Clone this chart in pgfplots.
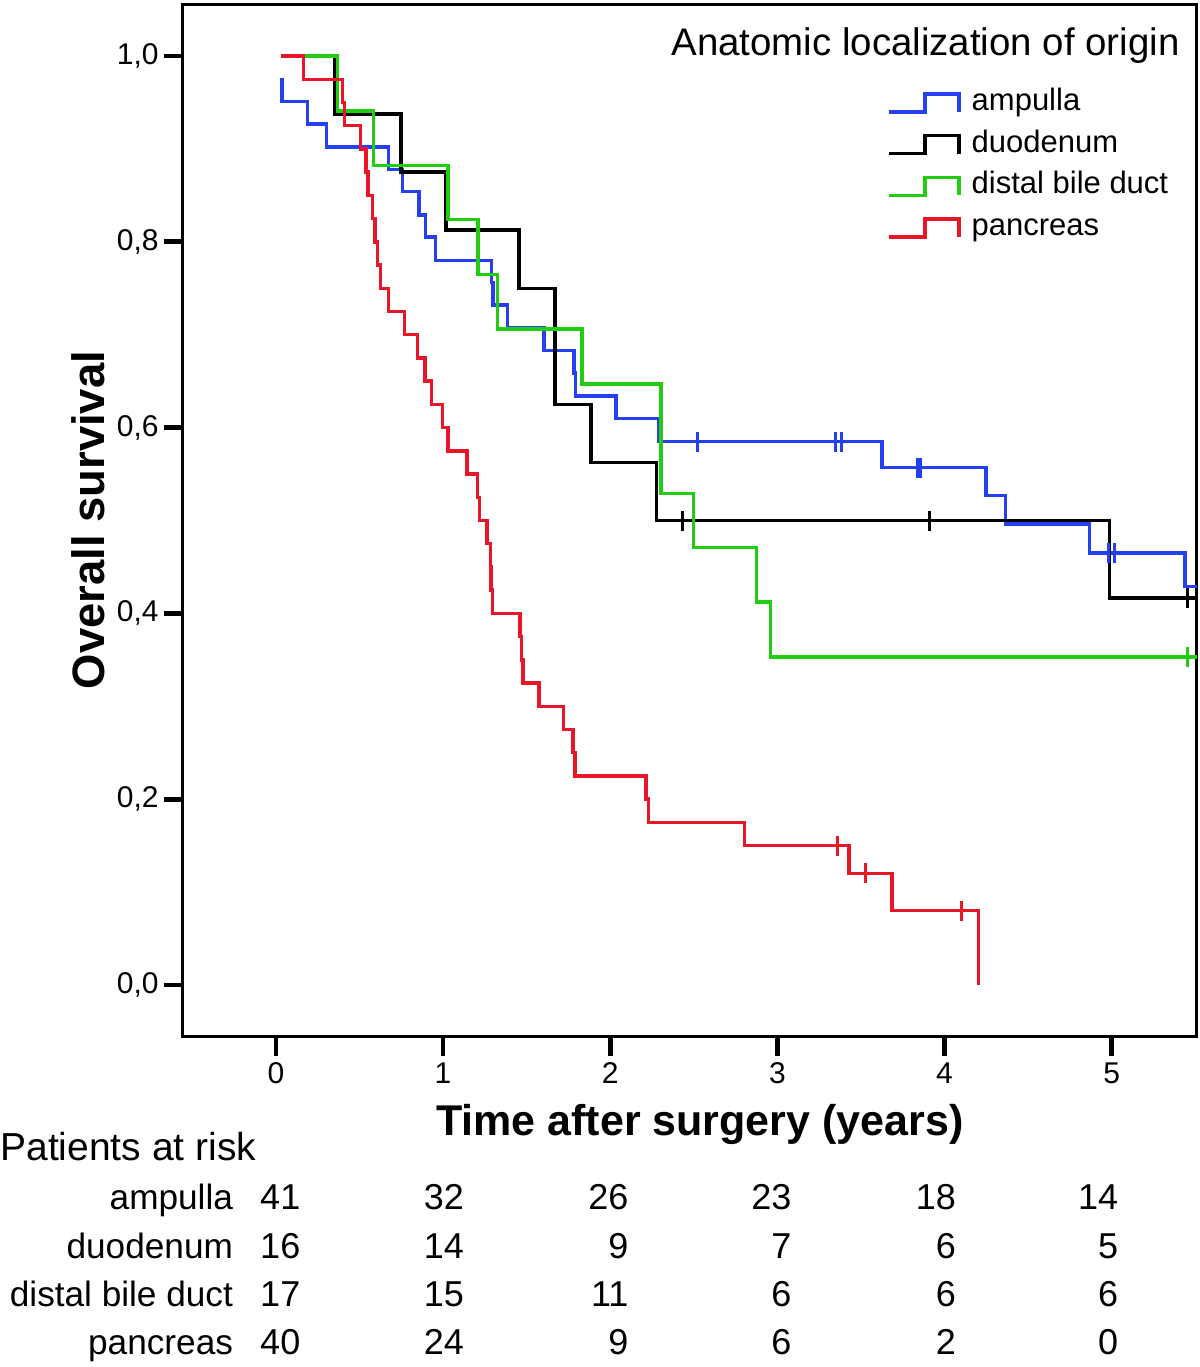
\documentclass[border=0pt]{standalone}
\usepackage{fontspec}
\setmainfont{Liberation Sans}
\usepackage{pgfplots}
\pgfplotsset{compat=1.18}

\definecolor{kmblue}{RGB}{36,64,240}
\definecolor{kmgreen}{RGB}{34,204,17}
\definecolor{kmred}{RGB}{232,22,40}

\newcommand\tabfont{\fontsize{18}{21}\selectfont}
\tikzset{risk/.style={anchor=base east, inner sep=0pt, font=\tabfont},
  risklabel/.style={anchor=base east, inner sep=0pt, font=\fontsize{17.6}{21}\selectfont}}

\begin{document}
\begin{tikzpicture}
\begin{axis}[
  name=ax,
  scale only axis,
  width=507pt, height=516.2pt,
  xmin=-0.558, xmax=5.509,
  ymin=-0.0557, ymax=1.0557,
  clip=false,
  axis line style={line width=1.5pt},
  xtick={0,1,2,3,4,5}, xticklabels={0,1,2,3,4,5},
  ytick={0,0.2,0.4,0.6,0.8,1}, yticklabels={{0,0},{0,2},{0,4},{0,6},{0,8},{1,0}},
  tick align=outside, tick pos=left,
  major tick length=9.5pt,
  every tick/.style={line width=2.4pt, black},
  ticklabel style={font=\fontsize{15}{18}\selectfont},
  yticklabel style={xshift=1pt},
  xlabel={\textbf{Time after surgery (years)}},
  xlabel style={at={(axis description cs:0.51,-0.0855)}, anchor=center, font=\fontsize{21.5}{25}\selectfont},
  ylabel={\textbf{Overall survival}},
  ylabel style={at={(axis description cs:-0.0934,0.5005)}, anchor=center, font=\fontsize{22.7}{26}\selectfont},
  legend style={at={(axis cs:3.619,0.970)}, anchor=north west, draw=none, fill=none,
    font=\fontsize{15.5}{18}\selectfont, row sep=6.4pt, column sep=5.5pt,
    nodes={inner sep=0pt, text height=11pt, text depth=3.5pt}},
  legend cell align=left,
  legend image code/.code={\draw[#1] (0pt,-4.5pt) -- (18pt,-4.5pt) -- (18pt,4.5pt) -- (35pt,4.5pt) -- (35pt,-4.5pt);},
  every axis plot/.append style={line width=1.75pt},
]

% ampulla
\addplot[const plot, kmblue] coordinates {
  (0.036,0.976) (0.036,0.951) (0.188,0.927) (0.303,0.902) (0.673,0.878)
  (0.758,0.854) (0.856,0.829) (0.896,0.805) (0.956,0.780) (1.290,0.756)
  (1.300,0.732) (1.385,0.707) (1.605,0.683) (1.784,0.659) (1.792,0.634)
  (2.034,0.610) (2.290,0.585) (3.625,0.557) (4.247,0.527) (4.366,0.496)
  (4.868,0.465) (5.440,0.429) (5.509,0.429)
};
\addlegendentry{ampulla}

% duodenum
\addplot[const plot, black] coordinates {
  (0.03,1.0) (0.353,0.9375) (0.747,0.875) (1.016,0.8125) (1.455,0.75)
  (1.670,0.625) (1.884,0.5625) (2.277,0.5) (4.986,0.4167) (5.509,0.4167)
};
\addlegendentry{duodenum}

% distal bile duct
\addplot[const plot, kmgreen] coordinates {
  (0.03,1.0) (0.367,0.941) (0.583,0.882) (1.030,0.824) (1.208,0.765)
  (1.325,0.706) (1.830,0.647) (2.303,0.529) (2.498,0.471) (2.874,0.412)
  (2.960,0.353) (5.509,0.353)
};
\addlegendentry{distal bile duct}

% pancreas
\addplot[const plot, kmred] coordinates {
  (0.028,1.0) (0.164,0.975) (0.397,0.95) (0.41,0.925) (0.507,0.9)
  (0.54,0.875) (0.552,0.85) (0.579,0.825) (0.594,0.8) (0.607,0.775)
  (0.627,0.75) (0.672,0.725) (0.770,0.7) (0.846,0.675) (0.892,0.65)
  (0.930,0.625) (0.996,0.6) (1.030,0.575) (1.142,0.55) (1.206,0.525)
  (1.218,0.5) (1.262,0.475) (1.284,0.45) (1.287,0.425) (1.295,0.4)
  (1.460,0.375) (1.468,0.35) (1.479,0.325) (1.575,0.3) (1.720,0.275)
  (1.777,0.25) (1.789,0.225) (2.213,0.2) (2.229,0.175) (2.802,0.15)
  (3.429,0.12) (3.686,0.08) (4.202,0.0)
};
\addlegendentry{pancreas}

% censored observations
\addplot[only marks, mark=|, mark size=5pt, kmblue, line width=1.5pt, forget plot] coordinates {
  (2.525,0.585) (3.346,0.585) (3.383,0.585) (3.840,0.557) (3.855,0.557) (4.980,0.465) (5.020,0.465)
};
\addplot[only marks, mark=|, mark size=5pt, black, line width=1.5pt, forget plot] coordinates {
  (2.435,0.5) (3.911,0.5) (5.453,0.4167)
};
\addplot[only marks, mark=|, mark size=5pt, kmgreen, line width=1.5pt, forget plot] coordinates {
  (5.453,0.353)
};
\addplot[only marks, mark=|, mark size=5pt, kmred, line width=1.5pt, forget plot] coordinates {
  (3.357,0.15) (3.530,0.12) (4.099,0.08)
};

% legend title
\node[anchor=base east, inner sep=0pt, font=\fontsize{19.2}{22}\selectfont] at (axis cs:5.409,1.001) {Anatomic localization of origin};

% patients at risk table
\node[anchor=base west, inner sep=0pt, font=\fontsize{19.5}{22}\selectfont] at (axis cs:-1.651,-0.1894) {Patients at risk};
\node[risklabel] at (axis cs:-0.2549,-0.2422) {ampulla};
\node[risklabel] at (axis cs:-0.2549,-0.2949) {duodenum};
\node[risklabel] at (axis cs:-0.2549,-0.3466) {distal bile duct};
\node[risklabel] at (axis cs:-0.2549,-0.3983) {pancreas};
% column 0
\node[risk] at (axis cs:0.148,-0.2422) {41};
\node[risk] at (axis cs:0.148,-0.2949) {16};
\node[risk] at (axis cs:0.148,-0.3466) {17};
\node[risk] at (axis cs:0.148,-0.3983) {40};
% column 1
\node[risk] at (axis cs:1.127,-0.2422) {32};
\node[risk] at (axis cs:1.127,-0.2949) {14};
\node[risk] at (axis cs:1.127,-0.3466) {15};
\node[risk] at (axis cs:1.127,-0.3983) {24};
% column 2
\node[risk] at (axis cs:2.111,-0.2422) {26};
\node[risk] at (axis cs:2.111,-0.2949) {9};
\node[risk] at (axis cs:2.111,-0.3466) {11};
\node[risk] at (axis cs:2.111,-0.3983) {9};
% column 3
\node[risk] at (axis cs:3.087,-0.2422) {23};
\node[risk] at (axis cs:3.087,-0.2949) {7};
\node[risk] at (axis cs:3.087,-0.3466) {6};
\node[risk] at (axis cs:3.087,-0.3983) {6};
% column 4
\node[risk] at (axis cs:4.071,-0.2422) {18};
\node[risk] at (axis cs:4.071,-0.2949) {6};
\node[risk] at (axis cs:4.071,-0.3466) {6};
\node[risk] at (axis cs:4.071,-0.3983) {2};
% column 5
\node[risk] at (axis cs:5.041,-0.2422) {14};
\node[risk] at (axis cs:5.041,-0.2949) {5};
\node[risk] at (axis cs:5.041,-0.3466) {6};
\node[risk] at (axis cs:5.041,-0.3983) {0};
\end{axis}
\pgfresetboundingbox
\path ([xshift=-91.35pt,yshift=-165.15pt]ax.south west) rectangle ([xshift=1.65pt,yshift=2.15pt]ax.north east);
\end{tikzpicture}
\end{document}
